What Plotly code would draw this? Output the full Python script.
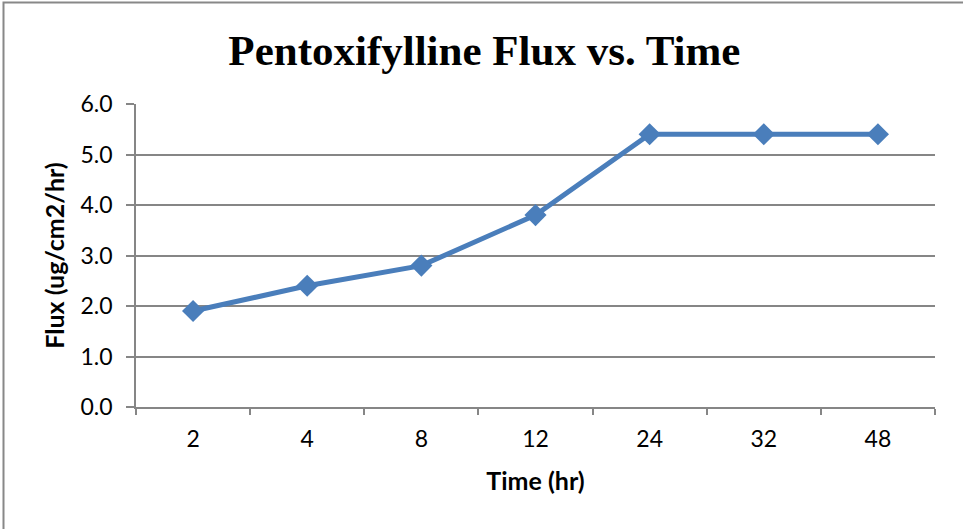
import plotly.graph_objects as go

time_labels = ["2", "4", "8", "12", "24", "32", "48"]
flux_values = [1.9, 2.4, 2.8, 3.8, 5.4, 5.4, 5.4]
y_ticks = [0, 1, 2, 3, 4, 5, 6]

W, H = 963, 529
L, R, T, B = 136, 28, 104, 122
pw, ph = W - L - R, H - T - B

fig = go.Figure()
fig.add_trace(go.Scatter(
    x=time_labels, y=flux_values, mode="lines+markers",
    line=dict(color="#4A7EBB", width=5),
    marker=dict(symbol="diamond", size=17, color="#4A7EBB"),
    showlegend=False, cliponaxis=False,
))

grid = "#868686"
fig.update_layout(
    width=W, height=H,
    margin=dict(l=L, r=R, t=T, b=B),
    paper_bgcolor="white", plot_bgcolor="white",
    title=dict(text="<b>Pentoxifylline Flux vs. Time</b>",
               font=dict(family="Liberation Serif", size=43, color="black"),
               x=0.503, xref="container", xanchor="center",
               y=1 - 50 / H, yref="container", yanchor="middle"),
    font=dict(family="Lato", color="black"),
)
fig.update_xaxes(
    type="category", tickson="boundaries", range=[-0.5, 6.5], automargin=False,
    ticks="outside", ticklen=6, tickcolor=grid, tickwidth=1.5,
    showline=True, linecolor=grid, linewidth=1.5,
    showgrid=False, tickfont=dict(size=23, family="Lato"),
    ticklabelstandoff=11,
    title=dict(text="<b>Time (hr)</b>", font=dict(size=25, family="Lato"), standoff=21),
)
fig.update_yaxes(
    range=[0, 6], tickvals=y_ticks, tickformat=".1f", automargin=False,
    ticks="outside", ticklen=8, tickcolor=grid, tickwidth=1.5,
    showline=True, linecolor=grid, linewidth=1.5,
    showgrid=True, gridcolor=grid, gridwidth=1.5, zeroline=False,
    tickfont=dict(size=23, family="Lato"),
    ticklabelstandoff=9,
    title=dict(text="<b>Flux (ug/cm2/hr)</b>", font=dict(size=25, family="Lato"), standoff=9),
)

# outer chart border (only top and left edges visible in the frame)
x0 = (3.5 - L) / pw
y1 = 1 + (T - 2.5) / ph
fig.add_shape(type="rect", xref="paper", yref="paper",
              x0=x0, x1=1.2, y0=-0.6, y1=y1,
              line=dict(color="#888888", width=2), layer="below")

fig.write_html("out.html", config={"displayModeBar": False},
               post_script="document.body.style.margin='0';document.body.style.overflow='hidden';")
